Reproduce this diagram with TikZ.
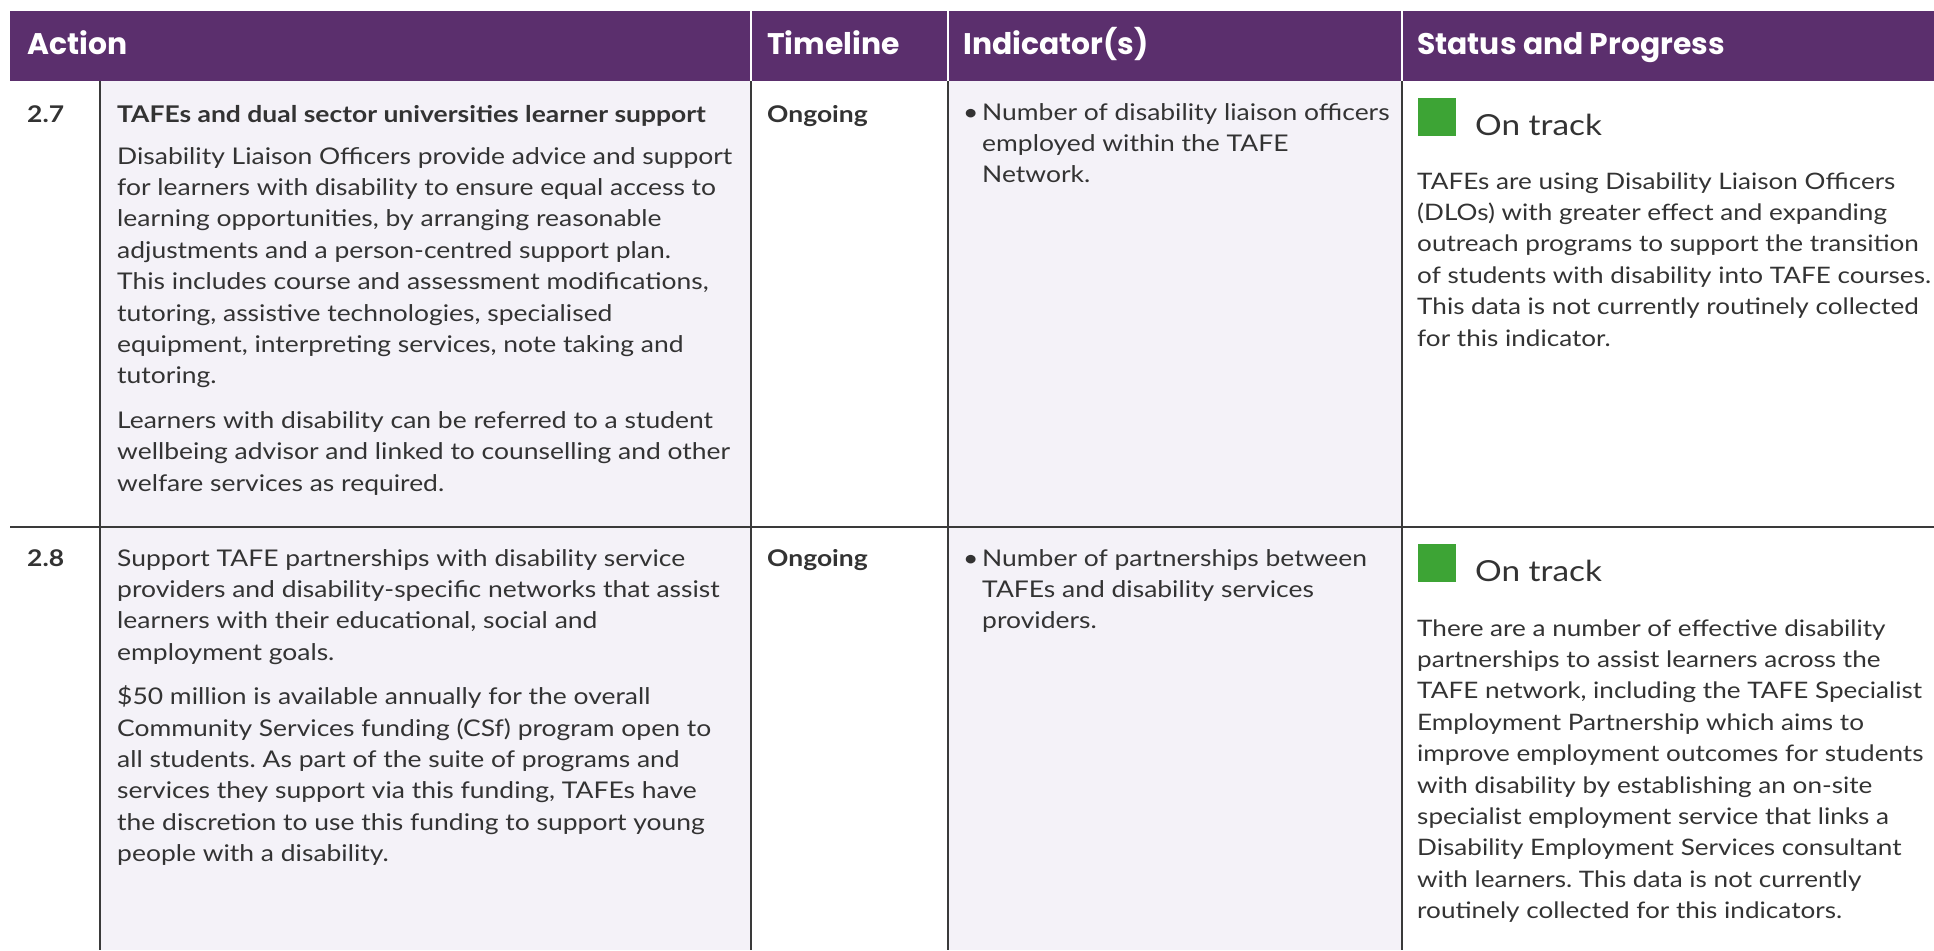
\documentclass[tikz,border=0pt]{standalone}
\usepackage{fontspec}
\setmainfont{Lato}[FakeStretch=1.15]
\newfontfamily\headfont{Poppins}
\usepackage{tikz}
\frenchspacing
\definecolor{headpurple}{HTML}{5B2F6D}
\definecolor{celltint}{HTML}{F4F2F8}
\definecolor{bodytext}{HTML}{333333}
\definecolor{trackgreen}{HTML}{3DA435}
\definecolor{rulegray}{HTML}{3A3A3A}
% top-aligned cell text: the node base is the first baseline
\newcommand{\cellpar}[1]{\parbox[t]{620pt}{\raggedright #1}}

\begin{document}
\begin{tikzpicture}[x=1pt, y=-1pt,
  every node/.style={inner sep=0pt, anchor=base west, text=bodytext,
    font=\fontsize{23}{31.4}\selectfont},
  headtext/.style={text=white, font=\headfont\bfseries\fontsize{29.8}{34}\selectfont},
  boldtext/.style={font=\bfseries\fontsize{23}{31.4}\selectfont},
  statustext/.style={font=\fontsize{29}{36}\selectfont},
  statuspar/.style={font=\fontsize{22.7}{31.4}\selectfont},
  cellrule/.style={rulegray, line width=1.5pt},
  headrule/.style={white, line width=2pt}]
	\useasboundingbox (0,0) rectangle (1934,950);
	
	% shaded columns
	\fill[celltint] (100,81) rectangle (751,950);
	\fill[celltint] (948,81) rectangle (1402,950);
	
	% header
	\fill[headpurple] (10,11) rectangle (1934,81);
	\draw[headrule] (751,11) -- (751,81);
	\draw[headrule] (948,11) -- (948,81);
	\draw[headrule] (1402,11) -- (1402,81);
	\node[headtext] (hAction) at (27,55) {Action};
	\node[headtext] (hTimeline) at (767,55) {Timeline};
	\node[headtext] (hIndicator) at (963,55) {Indicator(s)};
	\node[headtext] (hStatus) at (1417,55) {Status and Progress};
	
	% rules
	\draw[cellrule] (100,81) -- (100,950);
	\draw[cellrule] (751,81) -- (751,950);
	\draw[cellrule] (948,81) -- (948,950);
	\draw[cellrule] (1402,81) -- (1402,950);
	\draw[cellrule] (10,527) -- (1934,527);
	
	% Row 2.7
	\node[boldtext] (num1) at (27,122) {2.7};
	\node[boldtext] (title1) at (117,122) {TAFEs and dual sector universities learner support};
	\node (act1) at (117,164) {\cellpar{Disability Liaison Officers provide advice and support\\
		for learners with disability to ensure equal access to\\
		learning opportunities, by arranging reasonable\\
		adjustments and a person-centred support plan.\\
		This includes course and assessment modifications,\\
		tutoring, assistive technologies, specialised\\
		equipment, interpreting services, note taking and\\
		tutoring.\\[13pt]
		Learners with disability can be referred to a student\\
		wellbeing advisor and linked to counselling and other\\
		welfare services as required.}};
	\node[boldtext] (time1) at (767,122) {Ongoing};
	\node (bul1) at (963,120) {\textbullet};
	\node (ind1) at (982,120) {\cellpar{Number of disability liaison officers\\
		employed within the TAFE\\
		Network.}};
	\fill[trackgreen] (1418,98) rectangle (1456,136);
	\node[statustext] (track1) at (1475,135) {On track};
	\node[statuspar] (stat1) at (1417,189) {\cellpar{TAFEs are using Disability Liaison Officers\\
		(DLOs) with greater effect and expanding\\
		outreach programs to support the transition\\
		of students with disability into TAFE courses.\\
		This data is not currently routinely collected\\
		for this indicator.}};
	
	% Row 2.8
	\node[boldtext] (num2) at (27,566) {2.8};
	\node (act2) at (117,566) {\cellpar{Support TAFE partnerships with disability service\\
		providers and disability-specific networks that assist\\
		learners with their educational, social and\\
		employment goals.\\[13pt]
		\$50 million is available annually for the overall\\
		Community Services funding (CSf) program open to\\
		all students. As part of the suite of programs and\\
		services they support via this funding, TAFEs have\\
		the discretion to use this funding to support young\\
		people with a disability.}};
	\node[boldtext] (time2) at (767,566) {Ongoing};
	\node (bul2) at (963,566) {\textbullet};
	\node (ind2) at (982,566) {\cellpar{Number of partnerships between\\
		TAFEs and disability services\\
		providers.}};
	\fill[trackgreen] (1418,544) rectangle (1456,582);
	\node[statustext] (track2) at (1475,581) {On track};
	\node[statuspar] (stat2) at (1417,636) {\cellpar{There are a number of effective disability\\
		partnerships to assist learners across the\\
		TAFE network, including the TAFE Specialist\\
		Employment Partnership which aims to\\
		improve employment outcomes for students\\
		with disability by establishing an on-site\\
		specialist employment service that links a\\
		Disability Employment Services consultant\\
		with learners. This data is not currently\\
		routinely collected for this indicators.}};
	
\end{tikzpicture}
\end{document}
